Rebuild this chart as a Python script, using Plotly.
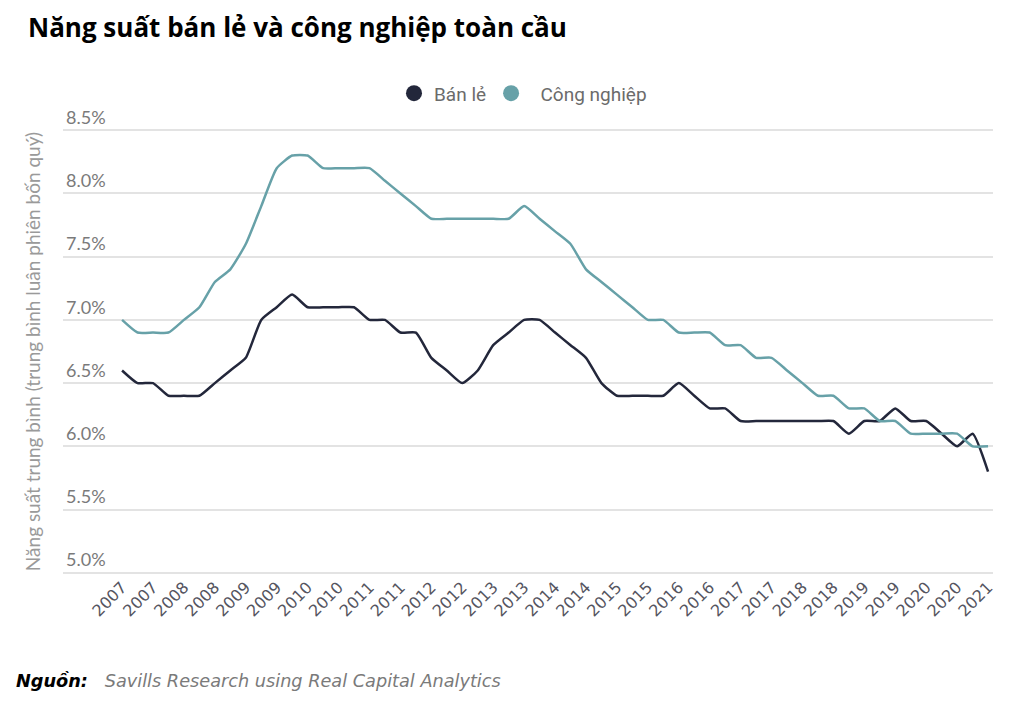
import plotly.graph_objects as go

quarters = [f"{y}Q{q}" for y in range(2007, 2021) for q in range(1, 5)] + ["2021Q1"]

ban_le = [6.6, 6.5, 6.5, 6.4, 6.4, 6.4, 6.5, 6.6, 6.7, 7.0, 7.1, 7.2, 7.1, 7.1, 7.1, 7.1,
          7.0, 7.0, 6.9, 6.9, 6.7, 6.6, 6.5, 6.6, 6.8, 6.9, 7.0, 7.0, 6.9, 6.8, 6.7, 6.5,
          6.4, 6.4, 6.4, 6.4, 6.5, 6.4, 6.3, 6.3, 6.2, 6.2, 6.2, 6.2, 6.2, 6.2, 6.2, 6.1,
          6.2, 6.2, 6.3, 6.2, 6.2, 6.1, 6.0, 6.1, 5.8]

cong_nghiep = [7.0, 6.9, 6.9, 6.9, 7.0, 7.1, 7.3, 7.4, 7.6, 7.9, 8.2, 8.3, 8.3, 8.2, 8.2, 8.2,
               8.2, 8.1, 8.0, 7.9, 7.8, 7.8, 7.8, 7.8, 7.8, 7.8, 7.9, 7.8, 7.7, 7.6, 7.4, 7.3,
               7.2, 7.1, 7.0, 7.0, 6.9, 6.9, 6.9, 6.8, 6.8, 6.7, 6.7, 6.6, 6.5, 6.4, 6.4, 6.3,
               6.3, 6.2, 6.2, 6.1, 6.1, 6.1, 6.1, 6.0, 6.0]

tick_vals = quarters[::2]
tick_text = [q[:4] for q in tick_vals]

y_ticks = [5.0, 5.5, 6.0, 6.5, 7.0, 7.5, 8.0, 8.5]
y_text = [f"{v:.1f}%" for v in y_ticks]

dark = "#23273b"
teal = "#67a1a8"

# pixel geometry: 5.0% at y=573, 8.5% at y=130 -> 126.57 px per unit
y_lo, y_hi = 4.99, 8.51
ppu = 443 / 3.5
top_px = 130 - (y_hi - 8.5) * ppu
bot_px = 573 + (5.0 - y_lo) * ppu

fig = go.Figure()
fig.add_trace(go.Scatter(x=quarters, y=ban_le, mode="lines", showlegend=False,
                         line=dict(color=dark, width=2.5, shape="spline", smoothing=0.5)))
fig.add_trace(go.Scatter(x=quarters, y=cong_nghiep, mode="lines", showlegend=False,
                         line=dict(color=teal, width=2.5, shape="spline", smoothing=0.5)))
fig.add_trace(go.Scatter(x=[None], y=[None], mode="markers", name="Bán lẻ",
                         marker=dict(color=dark, size=20)))
fig.add_trace(go.Scatter(x=[None], y=[None], mode="markers", name="&nbsp;&nbsp;Công nghiệp",
                         marker=dict(color=teal, size=20)))

plot_h = bot_px - top_px

fig.update_layout(
    width=1024, height=705,
    margin=dict(l=63, r=31, t=top_px, b=705 - bot_px),
    paper_bgcolor="white", plot_bgcolor="white",
    title=dict(text="<b>Năng suất bán lẻ và công nghiệp toàn cầu</b>",
               x=28/1024, xanchor="left", xref="container",
               y=1-28/705, yanchor="middle", yref="container",
               font=dict(family="Open Sans", size=26, color="#000000")),
    legend=dict(orientation="h", x=(523-63)/930, xanchor="center",
                y=(bot_px - 93) / plot_h, yanchor="middle",
                font=dict(family="Liberation Sans Narrow, Roboto, sans-serif", size=19, color="#6b6b6b"),
                itemsizing="trace"),
    xaxis=dict(type="category", range=[-3.82, 56.32], tickmode="array",
               tickvals=tick_vals, ticktext=tick_text, tickangle=-45,
               showgrid=False, zeroline=False, showline=False, ticks="",
               tickfont=dict(family="DejaVu Sans", size=16, color="#55555f")),
    yaxis=dict(range=[y_lo, y_hi], tickmode="array", tickvals=y_ticks, ticktext=y_text,
               ticklabelposition="inside top", ticklabeloverflow="allow",
               showgrid=True, gridcolor="#e3e3e3", gridwidth=1.5,
               zeroline=False, showline=False, ticks="",
               tickfont=dict(family="Lato", size=18, color="#7a7a7a"),
               title=dict(text="Năng suất trung bình (trung bình luân phiên bốn quý)",
                          font=dict(family="Lato", size=19, color="#9a9a9a"), standoff=20)),
)

fig.add_annotation(
    xref="paper", yref="paper", x=(14-63)/930, y=(bot_px-681)/plot_h, xanchor="left", yanchor="middle",
    showarrow=False,
    text="<b><i>Nguồn:</i></b>&nbsp;&nbsp;&nbsp;<i><span style='color:#7a7a7a'>Savills Research using Real Capital Analytics</span></i>",
    font=dict(family="DejaVu Sans", size=17.7, color="#000000"),
)

fig.write_html("out.html")
